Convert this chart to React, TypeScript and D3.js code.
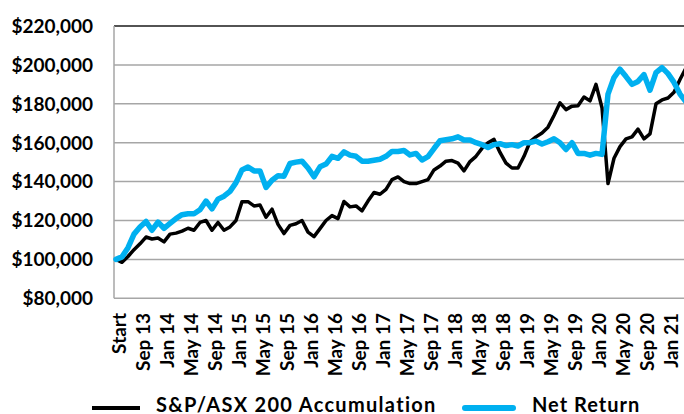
import React from 'react';
import * as d3 from 'd3';

// values in $ thousands, monthly from the start point
const tickLabels = [
    'Start', 'Sep 13', 'Jan 14', 'May 14', 'Sep 14', 'Jan 15', 'May 15', 'Sep 15',
    'Jan 16', 'May 16', 'Sep 16', 'Jan 17', 'May 17', 'Sep 17', 'Jan 18', 'May 18',
    'Sep 18', 'Jan 19', 'May 19', 'Sep 19', 'Jan 20', 'May 20', 'Sep 20', 'Jan 21'
];

const asx200 = [
    100, 98.5, 101.5, 105, 108, 111.5, 110.5, 111, 109, 113,
    113.5, 114.5, 116, 115, 119, 120, 115, 119, 115, 116.7,
    120, 129.7, 129.7, 127.5, 128, 121.7, 125.8, 118, 113.3, 117.5,
    118.3, 120, 114, 111.7, 115.8, 120, 122.5, 121, 129.8, 127,
    127.5, 125, 130, 134.4, 133.5, 136, 141, 142.4, 140, 139,
    139, 140, 141, 146, 148, 150.5, 150.8, 149.5, 145.5, 150.3,
    153, 157.1, 160, 161.7, 155, 149.5, 147, 147, 153, 160.5,
    163, 165, 168, 174, 180.5, 177, 178.8, 179, 183.5, 181.5,
    190, 178, 139, 152, 158, 162, 163, 167, 162, 164.5,
    180, 182, 183, 186, 192.5, 198.5
];

const netReturn = [
    100, 101.3, 106, 113, 116.7, 119.5, 115, 119.2, 116, 118.5,
    121, 123, 123.5, 123.5, 125.5, 130, 126, 131, 132.5, 135,
    139.5, 146, 147.5, 145.5, 145.5, 137, 140.7, 143, 142.8, 149.3,
    150, 150.5, 147, 142.5, 147.6, 149, 153, 152, 155.3, 153.6,
    153, 150.5, 150.5, 151, 151.5, 153, 155.5, 155.5, 156, 153.7,
    154.5, 151.1, 152.8, 157, 161, 161.5, 162, 163, 161.4, 161.4,
    160, 159, 157.5, 159, 159.5, 158.5, 159, 158.3, 160, 160,
    160.8, 159.3, 160.5, 162, 160, 156.5, 160, 154.5, 154.5, 153.6,
    154.5, 154, 185, 193.5, 197.8, 194, 190, 191.5, 195, 187,
    196, 198.6, 195.5, 191, 185, 181
];

const yTicks = [80, 100, 120, 140, 160, 180, 200, 220];

const W = 684;
const H = 414;
const font = 'Lato, sans-serif';

export default function App() {
    const x = d3.scaleLinear().domain([0, asx200.length - 1]).range([116, 686]);
    const y = d3.scaleLinear().domain([80, 220]).range([298.3, 26]);

    const line = d3.line<number>()
        .x((d, i) => x(i))
        .y((d) => y(d));

    const fmt = (v: number) => '$' + d3.format(',')(v * 1000);

    return (
        <svg width={W} height={H} style={{ position: 'absolute', left: 0, top: 0, background: '#fff' }}>
            <defs>
                <clipPath id="plot">
                    <rect x={110} y={0} width={W - 110} height={305} />
                </clipPath>
            </defs>

            {/* gridlines */}
            {yTicks.map((t) => (
                <line key={t} x1={114} x2={W} y1={y(t)} y2={y(t)}
                    stroke={t === 220 ? '#1a1a1a' : '#a6a6a6'} strokeWidth={t === 220 ? 1.6 : 1.5} />
            ))}
            <line x1={114} x2={114} y1={y(220)} y2={y(80)} stroke="#a6a6a6" strokeWidth={1.5} />

            {/* y labels */}
            {yTicks.map((t) => (
                <text key={t} x={93} y={y(t)} dy="0.36em" textAnchor="end"
                    fontFamily={font} fontWeight={700} fontSize={19} fill="#000">{fmt(t)}</text>
            ))}

            {/* x labels */}
            {tickLabels.map((lab, k) => (
                <text key={lab} transform={`translate(${x(k * 4) + 3},313) rotate(-90)`}
                    textAnchor="end" dy="0.36em"
                    fontFamily={font} fontWeight={700} fontSize={19} fill="#000">{lab}</text>
            ))}

            <g clipPath="url(#plot)">
                <path d={line(asx200) || ''} fill="none" stroke="#000" strokeWidth={3.5}
                    strokeLinejoin="round" strokeLinecap="round" />
                <path d={line(netReturn) || ''} fill="none" stroke="#00b0f0" strokeWidth={5.5}
                    strokeLinejoin="round" strokeLinecap="round" />
            </g>

            {/* legend */}
            <line x1={92} x2={140} y1={408} y2={408} stroke="#000" strokeWidth={4} />
            <text x={156} y={412} fontFamily={font} fontWeight={700} fontSize={20}
                letterSpacing={1.3} fill="#000">
                S&amp;P/ASX 200 Accumulation
            </text>
            <line x1={465} x2={513} y1={408} y2={408} stroke="#00b0f0" strokeWidth={6} strokeLinecap="round" />
            <text x={532} y={412} fontFamily={font} fontWeight={700} fontSize={20}
                letterSpacing={1} fill="#000">
                Net Return
            </text>
        </svg>
    );
}
